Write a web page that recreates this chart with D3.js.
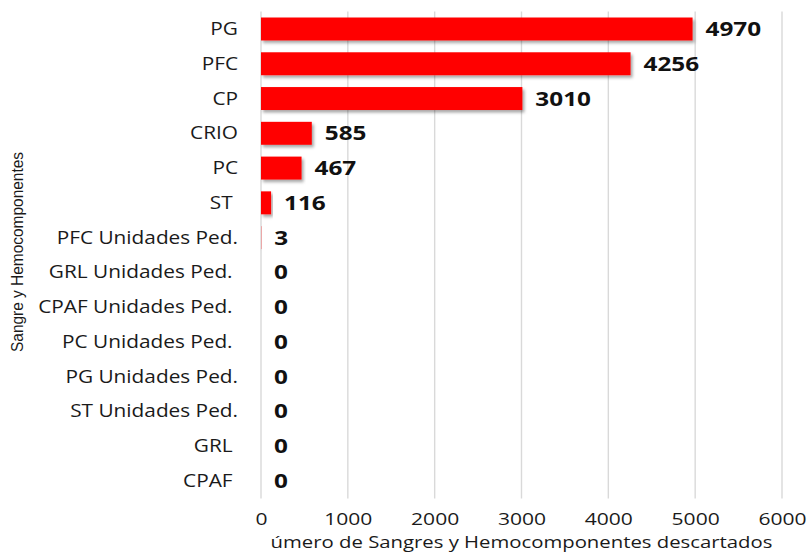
<!DOCTYPE html>
<html>
<head>
<meta charset="utf-8">
<script src="https://cdn.jsdelivr.net/npm/d3@7"></script>
<style>
  html, body { margin: 0; padding: 0; background: #fff; }
  svg { display: block; }
  text { white-space: pre; }
</style>
</head>
<body>
<svg id="chart" width="807" height="552"></svg>
<script>
// Discarded blood and blood components by product type
const categories = [
  "PG", "PFC", "CP", "CRIO", "PC", "ST ",
  "PFC Unidades Ped.", "GRL Unidades Ped. ", "CPAF Unidades Ped. ",
  "PC Unidades Ped. ", "PG Unidades Ped.", "ST Unidades Ped.",
  "GRL ", "CPAF "
];
const values = [4970, 4256, 3010, 585, 467, 116, 3, 0, 0, 0, 0, 0, 0, 0];
const xTicks = [0, 1000, 2000, 3000, 4000, 5000, 6000];

const xTitle = "úmero de Sangres y Hemocomponentes descartados";
const yTitle = "Sangre y Hemocomponentes";

const svg = d3.select("#chart");
const font = "'Open Sans', sans-serif";
const stretch = 1.21; // horizontal widening applied to text

const x = d3.scaleLinear().domain([0, 6000]).range([261, 782]);
const y = d3.scaleBand().domain(categories).range([11.6, 498.4])
  .paddingInner(0.34).paddingOuter(0.17);

const defs = svg.append("defs");
const f = defs.append("filter").attr("id", "shadow")
  .attr("x", "-5%").attr("y", "-30%").attr("width", "115%").attr("height", "180%");
f.append("feDropShadow").attr("dx", 2).attr("dy", 2.5).attr("stdDeviation", 1.6)
  .attr("flood-color", "#000").attr("flood-opacity", 0.35);

// vertical gridlines
svg.append("g").selectAll("line").data(xTicks).join("line")
  .attr("x1", d => x(d)).attr("x2", d => x(d))
  .attr("y1", y.range()[0]).attr("y2", y.range()[1])
  .attr("stroke", "#d9d9d9").attr("stroke-width", 1.4);

// x axis tick labels
const xAxis = d3.axisBottom(x).tickValues(xTicks).tickSize(0).tickPadding(0)
  .tickFormat(d3.format("d"));
const gx = svg.append("g").call(xAxis);
gx.select(".domain").remove();
gx.selectAll(".tick text").remove();
gx.selectAll(".tick").append("text")
  .attr("transform", `translate(0,525) scale(1.24,1)`)
  .attr("text-anchor", "middle")
  .attr("font-family", font).attr("font-size", 17).attr("fill", "#1a1a1a")
  .text(d => d3.format("d")(d));

// y axis category labels
const yAxis = d3.axisLeft(y).tickSize(0).tickPadding(0);
const gy = svg.append("g").call(yAxis);
gy.select(".domain").remove();
gy.selectAll(".tick text").remove();
gy.selectAll(".tick").append("text")
  .attr("transform", `translate(238,6) scale(${stretch},1)`)
  .attr("text-anchor", "end")
  .attr("font-family", font).attr("font-size", 17.2).attr("fill", "#1a1a1a")
  .text(d => d);

// bars
svg.append("g").selectAll("rect").data(values).join("rect")
  .attr("x", x(0))
  .attr("y", (d, i) => y(categories[i]))
  .attr("width", d => x(d) - x(0))
  .attr("height", y.bandwidth())
  .attr("fill", "#ff0000")
  .attr("filter", "url(#shadow)");

// value labels
svg.append("g").selectAll("text").data(values).join("text")
  .attr("transform", (d, i) =>
    `translate(${x(d) + 13},${y(categories[i]) + y.bandwidth() / 2 + 7}) scale(1.28,1)`)
  .attr("font-family", font).attr("font-weight", 700).attr("font-size", 19)
  .attr("fill", "#111")
  .text(d => d);

// axis titles
svg.append("text")
  .attr("transform", `translate(${x(3000)},548) scale(1.21,1)`)
  .attr("text-anchor", "middle")
  .attr("font-family", font).attr("font-size", 16.8).attr("fill", "#1a1a1a")
  .text(xTitle);

svg.append("text")
  .attr("transform", "translate(23,252) rotate(-90)")
  .attr("text-anchor", "middle")
  .attr("font-family", "'Liberation Sans Narrow', 'Liberation Sans', sans-serif")
  .attr("font-size", 17).attr("fill", "#1a1a1a")
  .attr("textLength", 200).attr("lengthAdjust", "spacingAndGlyphs")
  .text(yTitle);
</script>
</body>
</html>
